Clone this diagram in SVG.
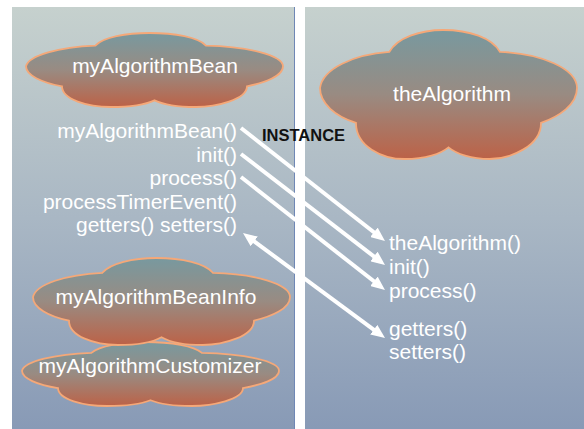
<svg xmlns="http://www.w3.org/2000/svg" width="584" height="429" viewBox="0 0 584 429">
  <defs>
    <linearGradient id="panelFill" x1="0" y1="0" x2="0" y2="1">
      <stop offset="0" stop-color="#c6d1ce"/>
      <stop offset="0.5" stop-color="#a9b7c4"/>
      <stop offset="1" stop-color="#889ab6"/>
    </linearGradient>
    <linearGradient id="cloudFill" x1="0" y1="0" x2="0" y2="1">
      <stop offset="0" stop-color="#78999f"/>
      <stop offset="0.5" stop-color="#998b82"/>
      <stop offset="1" stop-color="#bc6247"/>
    </linearGradient>
    <!-- unit cloud outline in a 100x100 box, scaled per node; stroke keeps its width -->
    <path id="cloud" vector-effect="non-scaling-stroke" d="M0,45 C1,30 13,19 27,17 C30,6 39,0 48,0 C58,0 67,6 70,17 C86,18 100,30 100,45 C100,58 93,67 86,72 C86,90 74,100 66,100 C59,100 53,96 50,91 C47,96 41,100 33,100 C24,100 14,90 14,72 C6,67 0,57 0,45 Z"/>
    <marker id="head" viewBox="0 0 14 12" refX="4" refY="6" markerWidth="14" markerHeight="12" markerUnits="userSpaceOnUse" orient="auto-start-reverse">
      <path d="M0,0 L14,6 L0,12 Z" fill="#ffffff"/>
    </marker>
  </defs>
  <style>
    .panel { fill: url(#panelFill); }
    .cloudShape { fill: url(#cloudFill); stroke: #f5a878; stroke-width: 1.8; }
    text { font-family: "Liberation Sans", Arial, Helvetica, sans-serif; fill: #ffffff; }
    .title { font-size: 21px; text-anchor: middle; }
    .method { font-size: 21px; }
    .left { text-anchor: end; }
    .tag { font-size: 16.5px; font-weight: bold; fill: #111111; }
    .link { stroke: #ffffff; stroke-width: 4; fill: none; marker-end: url(#head); }
  </style>

  <!-- background panels -->
  <rect x="0" y="0" width="584" height="429" fill="#ffffff"/>
  <rect class="panel" x="12" y="7" width="283" height="422"/>
  <line x1="294.5" y1="7" x2="294.5" y2="429" stroke="#6f87b5" stroke-width="1"/>
  <rect class="panel" x="305" y="7" width="279" height="422"/>

  <!-- bean node -->
  <g id="myAlgorithmBean">
    <use href="#cloud" class="cloudShape" transform="translate(26,33) scale(2.57,0.74)"/>
    <text class="title" x="155" y="73">myAlgorithmBean</text>
  </g>

  <!-- instance node -->
  <g id="theAlgorithm">
    <use href="#cloud" class="cloudShape" transform="translate(320,30) scale(2.57,1.29)"/>
    <text class="title" x="452" y="101">theAlgorithm</text>
  </g>

  <!-- customizer sits behind the bean info cloud -->
  <g id="myAlgorithmCustomizer">
    <use href="#cloud" class="cloudShape" transform="translate(22,342) scale(2.57,0.64)"/>
    <text class="title" x="150" y="373">myAlgorithmCustomizer</text>
  </g>

  <g id="myAlgorithmBeanInfo">
    <use href="#cloud" class="cloudShape" transform="translate(33,258) scale(2.57,0.87)"/>
    <text class="title" x="156" y="304">myAlgorithmBeanInfo</text>
  </g>

  <!-- bean methods -->
  <g id="beanMethods">
    <text class="method left" x="237" y="138">myAlgorithmBean()</text>
    <text class="method left" x="237" y="161.5">init()</text>
    <text class="method left" x="237" y="185">process()</text>
    <text class="method left" x="237" y="208.5">processTimerEvent()</text>
    <text class="method left" x="237" y="232">getters() setters()</text>
  </g>

  <!-- instance methods -->
  <g id="instanceMethods">
    <text class="method" x="389" y="250">theAlgorithm()</text>
    <text class="method" x="389" y="274">init()</text>
    <text class="method" x="389" y="298">process()</text>
    <text class="method" x="389" y="336">getters()</text>
    <text class="method" x="389" y="359">setters()</text>
  </g>

  <text class="tag" x="262" y="141">INSTANCE</text>

  <!-- connectors -->
  <g id="connectors">
    <line class="link" x1="241" y1="128" x2="377.1" y2="234.8"/>
    <line class="link" x1="241" y1="154" x2="377.1" y2="258.9"/>
    <line class="link" x1="241" y1="177" x2="377.1" y2="283.8"/>
    <line class="link" x1="251" y1="239" x2="377" y2="332.1" marker-start="url(#head)"/>
  </g>
</svg>
